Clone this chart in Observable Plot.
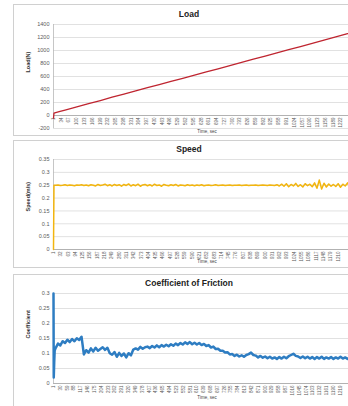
<!DOCTYPE html>
<html>
<head>
<meta charset="utf-8">
<script src="https://cdn.jsdelivr.net/npm/d3@7"></script>
<script src="https://cdn.jsdelivr.net/npm/@observablehq/plot@0.6"></script>
<style>
  html, body { margin: 0; padding: 0; background: #fff; }
  body { width: 348px; height: 406px; overflow: hidden; position: relative; font-family: "Liberation Sans", Arial, sans-serif; }
  .panel { position: absolute; left: 13px; width: 352px; border: 1px solid #d0d0d0; box-sizing: border-box; background: #fff; }
  .panel svg { position: absolute; left: 0; top: 0; }
  .ttl { position: absolute; left: 0; width: 350px; text-align: center; font-weight: bold; font-size: 8.5px; color: #222; line-height: 10px; }
</style>
</head>
<body>
<div id="p1" class="panel" style="top:4px;height:132px"><div class="ttl" style="top:4px">Load</div></div>
<div id="p2" class="panel" style="top:140px;height:128px"><div class="ttl" style="top:3px">Speed</div></div>
<div id="p3" class="panel" style="top:274px;height:134px"><div class="ttl" style="top:3px">Coefficient of Friction</div></div>
<script>
// ---------- data ----------
const loadT = [1, 3, 10, 25, 50, 100, 150, 200, 250, 300, 350, 400, 450, 500, 550, 600, 650, 700, 750, 800, 850, 900, 950, 1000, 1050, 1100, 1150, 1200, 1250, 1300];
const loadV = [-40, 35, 45, 60, 84, 131, 182, 230, 281, 330, 377, 428, 475, 524, 572, 622, 671, 719, 769, 818, 866, 915, 963, 1013, 1061, 1110, 1160, 1208, 1258, 1307];
const loadYTicks = [-200, 0, 200, 400, 600, 800, 1000, 1200, 1400];
const loadXTicks = [1,34,67,100,133,166,199,232,265,298,331,364,397,430,463,496,529,562,595,628,661,694,727,760,793,826,859,892,925,958,991,1024,1057,1090,1123,1156,1189,1222];

const speedHeadT = [1, 3];
const speedHeadV = [0, 0.25];
const sampleStep = 10; // samples below are taken every 10 time steps from t = 10
const speedV = [
  0.250,0.251,0.249,0.250,0.252,0.249,0.251,0.250,0.248,0.251,
  0.250,0.252,0.249,0.251,0.248,0.252,0.250,0.247,0.253,0.249,
  0.251,0.254,0.248,0.252,0.247,0.253,0.249,0.252,0.246,0.253,
  0.249,0.255,0.247,0.252,0.248,0.254,0.246,0.251,0.253,0.248,
  0.252,0.247,0.254,0.249,0.251,0.246,0.253,0.250,0.248,0.252,
  0.249,0.253,0.247,0.251,0.250,0.248,0.252,0.249,0.251,0.248,
  0.251,0.249,0.252,0.248,0.250,0.251,0.249,0.250,0.252,0.249,
  0.250,0.251,0.249,0.250,0.251,0.249,0.250,0.250,0.251,0.249,
  0.250,0.251,0.249,0.250,0.250,0.251,0.249,0.250,0.251,0.250,
  0.249,0.251,0.250,0.249,0.252,0.247,0.254,0.246,0.256,0.244,
  0.253,0.247,0.257,0.245,0.252,0.243,0.256,0.248,0.254,0.244,
  0.259,0.238,0.270,0.235,0.258,0.243,0.255,0.246,0.253,0.245,
  0.256,0.242,0.254,0.247,0.259,0.240,0.255,0.244,0.257,0.246
];
const speedYTicks = [0, 0.05, 0.1, 0.15, 0.2, 0.25, 0.3, 0.35];
const speedXTicks = [1,32,63,94,125,156,187,218,249,280,311,342,373,404,435,466,497,528,559,590,621,652,683,714,745,776,807,838,869,900,931,962,993,1024,1055,1086,1117,1148,1179,1210];

const frictionHeadT = [1, 2, 4, 6];
const frictionHeadV = [0.30, 0.02, 0.07, 0.11];
const frictionV = [
  0.118,0.133,0.127,0.141,0.135,0.146,0.138,0.148,0.141,0.151,
  0.145,0.156,0.097,0.111,0.103,0.117,0.107,0.119,0.109,0.115,
  0.121,0.112,0.119,0.101,0.096,0.105,0.089,0.102,0.092,0.100,
  0.087,0.101,0.094,0.113,0.117,0.113,0.122,0.116,0.121,0.123,
  0.118,0.125,0.120,0.127,0.121,0.128,0.123,0.129,0.124,0.131,
  0.126,0.133,0.128,0.135,0.130,0.137,0.132,0.138,0.131,0.136,
  0.130,0.135,0.128,0.132,0.125,0.128,0.120,0.123,0.115,0.116,
  0.109,0.109,0.103,0.104,0.097,0.098,0.092,0.096,0.090,0.094,
  0.089,0.095,0.098,0.103,0.095,0.093,0.087,0.092,0.086,0.090,
  0.084,0.089,0.083,0.087,0.082,0.088,0.083,0.089,0.084,0.091,
  0.095,0.099,0.092,0.090,0.085,0.090,0.084,0.089,0.083,0.088,
  0.082,0.088,0.083,0.089,0.082,0.087,0.083,0.088,0.082,0.087,
  0.083,0.089,0.083,0.087,0.082,0.088,0.083,0.087,0.082,0.087
];
const frictionYTicks = [0, 0.05, 0.1, 0.15, 0.2, 0.25, 0.3];
const frictionXTicks = [1,30,59,88,117,146,175,204,233,262,291,320,349,378,407,436,465,494,523,552,581,610,639,668,697,726,755,784,813,842,871,900,929,958,987,1016,1045,1074,1103,1132,1161,1190,1219];

const titles = {x: "Time, sec", load: "Load(N)", speed: "Speed(m/s)", friction: "Coefficient"};

// ---------- build ----------
const FONT = "Liberation Sans, Arial, sans-serif";
function pairs(T, V) { return T.map((t, i) => ({t, v: V[i]})); }
function sampled(headT, headV, V) {
  return pairs(headT, headV).concat(V.map((v, i) => ({t: (i + 1) * sampleStep, v})));
}

function panel({data, color, width, yDomain, yTicks, xTicks, height, mt, mb, ylabel, ylabDy, xtitleDy}) {
  return Plot.plot({
    width: 350, height, marginTop: mt, marginBottom: mb, marginLeft: 39, marginRight: 4,
    x: {domain: [1, 1305], axis: null},
    y: {domain: yDomain, axis: null},
    style: {fontFamily: FONT, background: "transparent", overflow: "visible"},
    marks: [
      Plot.ruleY(yTicks, {stroke: "#d9d9d9", strokeWidth: 0.8}),
      Plot.ruleX([1], {stroke: "#b8b8b8", strokeWidth: 0.8}),
      Plot.ruleY([0], {stroke: "#a6a6a6", strokeWidth: 0.8}),
      Plot.text(yTicks, {frameAnchor: "left", y: d => d, text: d => String(d), textAnchor: "end", dx: -4, fontSize: 5.5, fill: "#595959"}),
      Plot.text(xTicks, {x: d => d, y: () => 0, text: d => String(d), rotate: -90, textAnchor: "end", lineAnchor: "middle", dy: 2, fontSize: 4.5, fill: "#595959"}),
      Plot.text([ylabel], {frameAnchor: "left", text: d => d, rotate: -90, dx: -25, dy: ylabDy, fontSize: 5.5, fontWeight: "bold", fill: "#333"}),
      Plot.text([titles.x], {frameAnchor: "bottom", text: d => d, dy: xtitleDy, fontSize: 4.5, fill: "#444"}),
      Plot.line(data, {x: "t", y: "v", stroke: color, strokeWidth: width, strokeLinejoin: "round"})
    ]
  });
}

document.getElementById("p1").appendChild(panel({
  data: pairs(loadT, loadV), color: "#bf2530", width: 1.3,
  yDomain: [-200, 1400], yTicks: loadYTicks, xTicks: loadXTicks,
  height: 130, mt: 19, mb: 7, ylabel: titles.load, ylabDy: -4, xtitleDy: 4
}));
document.getElementById("p2").appendChild(panel({
  data: sampled(speedHeadT, speedHeadV, speedV), color: "#f2b50f", width: 1.5,
  yDomain: [0, 0.35], yTicks: speedYTicks, xTicks: speedXTicks,
  height: 126, mt: 18, mb: 18, ylabel: titles.speed, ylabDy: 7, xtitleDy: 13
}));
document.getElementById("p3").appendChild(panel({
  data: sampled(frictionHeadT, frictionHeadV, frictionV), color: "#2e7dc2", width: 2.5,
  yDomain: [0, 0.3], yTicks: frictionYTicks, xTicks: frictionXTicks,
  height: 132, mt: 18, mb: 24, ylabel: titles.friction, ylabDy: 0, xtitleDy: 15
}));
</script>
</body>
</html>
